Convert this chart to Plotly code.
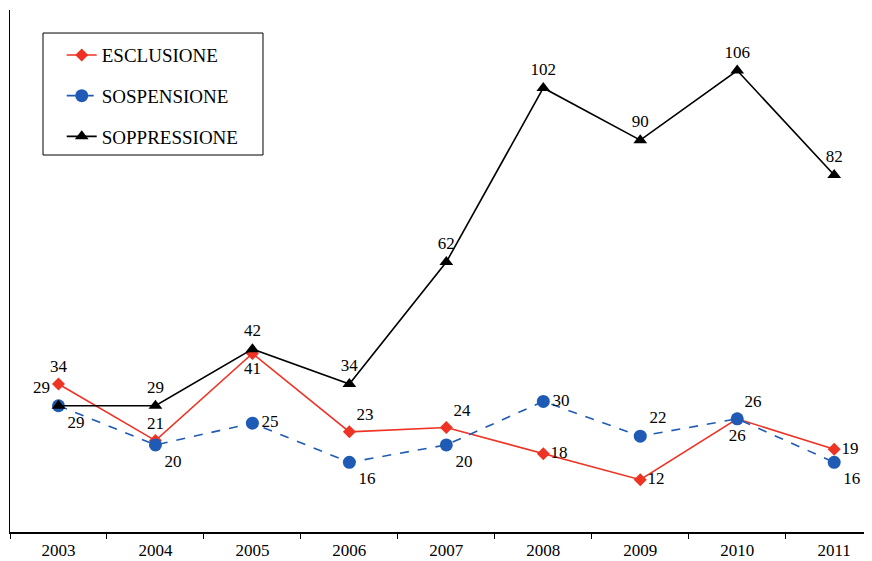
import plotly.graph_objects as go

years = ["2003", "2004", "2005", "2006", "2007", "2008", "2009", "2010", "2011"]
esclusione = [34, 21, 41, 23, 24, 18, 12, 26, 19]
sospensione = [29, 20, 25, 16, 20, 30, 22, 26, 16]
soppressione = [29, 29, 42, 34, 62, 102, 90, 106, 82]

pos_escl = ["top center", "top center", "bottom center", "top right", "top right",
            "middle right", "middle right", "top right", "middle right"]
pos_sosp = ["bottom right", "bottom right", "middle right", "bottom right", "bottom right",
            "middle right", "top right", "bottom center", "bottom right"]
pos_sopp = ["top left", "top center", "top center", "top center", "top center",
            "top center", "top center", "top center", "top center"]

font = "Liberation Serif"

fig = go.Figure()
fig.add_trace(go.Scatter(
    x=years, y=esclusione, name="ESCLUSIONE", mode="lines+markers+text",
    line=dict(color="#EE3224", width=1.6),
    marker=dict(symbol="diamond", size=10, color="#EE3224"),
    text=[str(v) for v in esclusione], textposition=pos_escl,
    textfont=dict(family=font, size=17, color="black"),
    legendgroup="a",
))
fig.add_trace(go.Scatter(
    x=years, y=sospensione, name="SOSPENSIONE", mode="lines+markers+text",
    line=dict(color="#1F5BB4", width=1.6, dash="dash"),
    marker=dict(symbol="circle", size=13, color="#1F5BB4"),
    text=[str(v) for v in sospensione], textposition=pos_sosp,
    textfont=dict(family=font, size=17, color="black"),
    legendgroup="b",
))
fig.add_trace(go.Scatter(
    x=years, y=soppressione, name="SOPPRESSIONE", mode="lines+markers+text",
    line=dict(color="black", width=1.6),
    marker=dict(symbol="triangle-up", size=12, color="black"),
    text=[str(v) for v in soppressione], textposition=pos_sopp,
    textfont=dict(family=font, size=17, color="black"),
    legendgroup="c",
))

# legend frame
fig.add_shape(type="rect", xref="paper", yref="paper",
              x0=0.0383, x1=0.2935, y0=0.7222, y1=0.9559,
              line=dict(color="black", width=1), fillcolor="rgba(0,0,0,0)", layer="below")

fig.update_layout(
    width=864, height=553,
    margin=dict(l=2, r=0, t=2, b=29, autoexpand=False),
    paper_bgcolor="white", plot_bgcolor="white",
    font=dict(family=font, size=17, color="black"),
    showlegend=True,
    legend=dict(
        x=0.060, y=0.950, xanchor="left", yanchor="top",
        borderwidth=0, bgcolor="rgba(0,0,0,0)",
        font=dict(family=font, size=19, color="black"),
        tracegroupgap=13,
    ),
    xaxis=dict(
        type="category", range=[-0.5, 8.39], tickson="boundaries",
        showline=True, linecolor="black", linewidth=1.5,
        ticks="outside", ticklen=5, tickcolor="black",
        showgrid=False, zeroline=False, ticklabelstandoff=2,
        tickfont=dict(family=font, size=17),
    ),
    yaxis=dict(
        range=[0, 119.9], showline=True, linecolor="black", linewidth=1,
        showticklabels=False, ticks="", showgrid=False, zeroline=False,
    ),
)

fig.write_html("out.html")
